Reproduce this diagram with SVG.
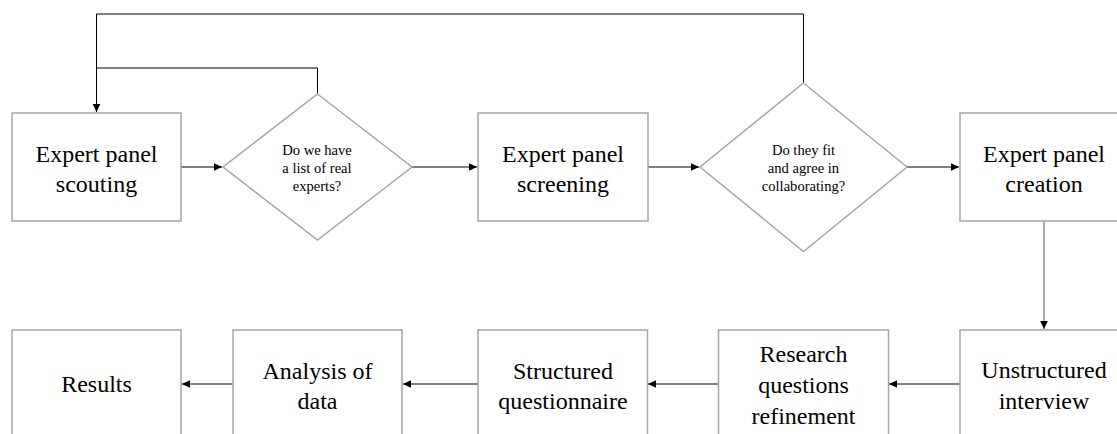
<svg xmlns="http://www.w3.org/2000/svg" width="1117" height="434" viewBox="0 0 1117 434">
<style>
.box{fill:#fff;stroke:#a6a6a6;stroke-width:1.5}
.dia{fill:#fff;stroke:#a6a6a6;stroke-width:1.5}
.t{font-size:24px;fill:#000;text-anchor:middle}
.s{font-size:14.6px;fill:#000;text-anchor:middle}
.c{fill:none;stroke:#000;stroke-width:1}
.g{fill:none;stroke:#595959;stroke-width:1}
</style>
<defs>
<marker id="ah" markerUnits="userSpaceOnUse" markerWidth="10" markerHeight="10" viewBox="0 0 10 10" refX="9" refY="5" orient="auto">
<path d="M1,1.2 L9,5 L1,8.8 Z" fill="#000"/>
</marker>
</defs>
<rect width="1117" height="434" fill="#fff"/>
<g id="connectors">
<path class="c" d="M803.5,83 V14 H96.5 V112" marker-end="url(#ah)"/>
<path class="c" d="M317.5,94 V68 H96.5"/>
<path class="c" d="M181,167 H222" marker-end="url(#ah)"/>
<path class="c" d="M412,167 H477" marker-end="url(#ah)"/>
<path class="c" d="M648,167 H699" marker-end="url(#ah)"/>
<path class="c" d="M907,167 H959" marker-end="url(#ah)"/>
<path class="g" d="M1044,221 V329" marker-end="url(#ah)"/>
<path class="c" d="M960,384 H889" marker-end="url(#ah)"/>
<path class="c" d="M718,384 H648" marker-end="url(#ah)"/>
<path class="c" d="M478,384 H403" marker-end="url(#ah)"/>
<path class="c" d="M233,384 H182" marker-end="url(#ah)"/>
</g>
<g font-family="'Liberation Serif', 'Times New Roman', serif">
<g id="scouting">
<rect class="box" x="12" y="113" width="169" height="108"/>
<text class="t" x="96.5" y="161.5">Expert panel</text>
<text class="t" x="96.5" y="192">scouting</text>
</g>
<g id="decision1">
<polygon class="dia" points="317.5,94 412,167 317.5,240 223,167"/>
<text class="s" x="317" y="155">Do we have</text>
<text class="s" x="317" y="173">a list of real</text>
<text class="s" x="317" y="191">experts?</text>
</g>
<g id="screening">
<rect class="box" x="478" y="113" width="170" height="108"/>
<text class="t" x="563" y="161.5">Expert panel</text>
<text class="t" x="563" y="192">screening</text>
</g>
<g id="decision2">
<polygon class="dia" points="803.5,83 907,167 803.5,251.5 700,167"/>
<text class="s" x="803.5" y="155">Do they fit</text>
<text class="s" x="803.5" y="173">and agree in</text>
<text class="s" x="803.5" y="191">collaborating?</text>
</g>
<g id="creation">
<rect class="box" x="960" y="113" width="169" height="108"/>
<text class="t" x="1044" y="161.5">Expert panel</text>
<text class="t" x="1044" y="192">creation</text>
</g>
<g id="unstructured">
<rect class="box" x="960" y="330" width="169" height="110"/>
<text class="t" x="1044" y="378">Unstructured</text>
<text class="t" x="1044" y="409">interview</text>
</g>
<g id="research">
<rect class="box" x="718.5" y="330" width="170" height="110"/>
<text class="t" x="803.5" y="362">Research</text>
<text class="t" x="803.5" y="393">questions</text>
<text class="t" x="803.5" y="424">refinement</text>
</g>
<g id="structured">
<rect class="box" x="478" y="330" width="169.5" height="110"/>
<text class="t" x="563" y="379">Structured</text>
<text class="t" x="563" y="408.5">questionnaire</text>
</g>
<g id="analysis">
<rect class="box" x="233" y="330" width="169" height="110"/>
<text class="t" x="317.5" y="379">Analysis of</text>
<text class="t" x="317.5" y="408.5">data</text>
</g>
<g id="results">
<rect class="box" x="12" y="330" width="169" height="110"/>
<text class="t" x="96.5" y="392">Results</text>
</g>
</g>
</svg>
